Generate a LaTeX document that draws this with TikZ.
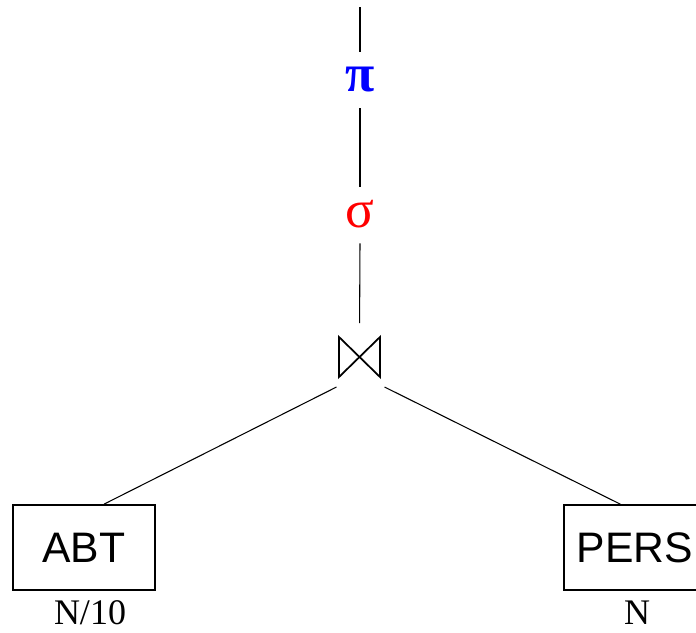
\documentclass[tikz,border=0pt]{standalone}
\usepackage{fontspec}
\setmainfont{Liberation Serif}
\newfontfamily\boxfont{Liberation Sans}
\usepackage{tikz}
\usetikzlibrary{positioning}

\begin{document}
\begin{tikzpicture}[x=0.75pt, y=-0.75pt,
	relation/.style = {draw, line width=1.5pt, minimum width=106pt, minimum height=63.5pt, inner sep=0pt, font=\boxfont\fontsize{32}{36}\selectfont},
	operator/.style = {inner sep=0pt, minimum height=42pt, font=\fontsize{40}{42}\selectfont},
	card/.style = {inner sep=0pt, font=\fontsize{27}{29}\selectfont},
	edge/.style = {line width=0.8pt}]
			\useasboundingbox (0,0) rectangle (696,632);
			\coordinate (root) at (360,7);
			\node[operator, text=blue] (proj) at (360,80) {\raisebox{-3pt}{\bfseries\symbol{"03C0}}};
			\node[operator, text=red] (sel) at (360,215) {\raisebox{1pt}{\symbol{"03C3}}};
			\node[minimum width=30.75pt, minimum height=30pt, inner sep=0pt, outer sep=0pt] (join) at (359.5,357) {};
			\draw[line width=1.3pt] (join.north west) -- (join.south east) -- (join.north east) -- (join.south west) -- cycle;
			
			\node[relation] (abt) at (84,547.5) {ABT};
			\node[relation] (pers) at (635,547.5) {PERS};
			\node[card] (abtcard) at (90,613) {N/10};
			\node[card] (perscard) at (637,613) {N};
			
			\draw[edge] (root) -- (proj.north);
			\draw[edge] (proj.south) -- (sel.north);
			\draw[edge, shorten >=10.5pt] (sel.south) -- (join.north);
			\draw[edge] ([shift={(-23,30)}]join.center) -- ([xshift=15pt]abt.north);
			\draw[edge] ([shift={(25,30)}]join.center) -- ([xshift=-11pt]pers.north);
\end{tikzpicture}
\end{document}
